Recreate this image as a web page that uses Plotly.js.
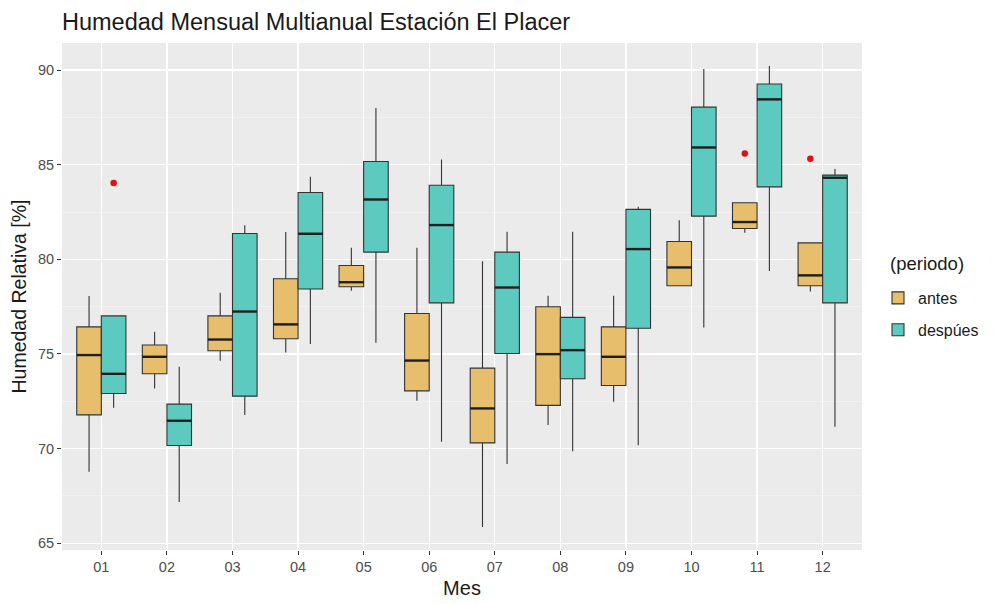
<!DOCTYPE html>
<html>
<head>
<meta charset="utf-8">
<script src="https://cdn.plot.ly/plotly-3.0.1.min.js"></script>
<style>html,body{margin:0;padding:0;background:#fff;}#chart{width:996px;height:604px;}</style>
</head>
<body>
<div id="chart"></div>
<script>
const months = ['01','02','03','04','05','06','07','08','09','10','11','12'];

// antes
const antesLow  = [68.77, 73.17, 74.64, 75.08, 78.34, 72.52, 65.86, 71.24, 72.47, 78.60, 81.40, 78.30];
const antesQ1   = [71.78, 73.95, 75.17, 75.80, 78.55, 73.05, 70.30, 72.28, 73.33, 78.60, 81.63, 78.60];
const antesMed  = [74.94, 74.85, 75.76, 76.56, 78.79, 74.65, 72.12, 74.99, 74.85, 79.57, 81.97, 79.15];
const antesQ3   = [76.43, 75.47, 77.01, 78.97, 79.67, 77.14, 74.25, 77.49, 76.43, 80.94, 82.99, 80.87];
const antesHigh = [78.06, 76.17, 78.23, 81.44, 80.61, 80.61, 79.90, 78.07, 78.07, 82.07, 82.99, 80.87];

// despues
const despLow  = [72.15, 67.18, 71.77, 75.52, 75.59, 70.36, 69.18, 69.86, 70.18, 76.40, 79.38, 71.15];
const despQ1   = [72.91, 70.16, 72.77, 78.43, 80.38, 77.70, 75.02, 73.69, 76.36, 82.28, 83.83, 77.70];
const despMed  = [73.95, 71.47, 77.24, 81.35, 83.16, 81.81, 78.51, 75.20, 80.54, 85.91, 88.45, 84.31];
const despQ3   = [77.01, 72.35, 81.36, 83.53, 85.17, 83.91, 80.38, 76.93, 82.64, 88.04, 89.26, 84.45];
const despHigh = [77.01, 74.32, 81.80, 84.36, 87.99, 85.28, 81.45, 81.45, 82.78, 90.05, 90.21, 84.77];

// outliers
const outMonthsAntes = ['11', '12'];
const outValsAntes   = [85.59, 85.31];
const outMonthsDesp  = ['01'];
const outValsDesp    = [84.03];

const yTicks = [65, 70, 75, 80, 85, 90];

const colAntes = '#E6BE6C';
const colDesp = '#5DCABF';
const boxW = 0.375;
const offA = -boxW / 2, offD = boxW / 2;
const pos = m => months.indexOf(m) + 1;

function boxTrace(name, color, off, lo, q1, med, q3, hi) {
  return {
    type: 'box', name: name, legendgroup: name,
    x: months.map(m => pos(m) + off),
    lowerfence: lo, q1: q1, median: med, q3: q3, upperfence: hi,
    width: boxW,
    fillcolor: color,
    line: {color: '#333333', width: 1.1},
    whiskerwidth: 0,
    boxpoints: false,
    hoverinfo: 'skip',
    showlegend: true
  };
}
function medTrace(off, med) {
  const xs = [], ys = [];
  months.forEach((m, i) => {
    xs.push(pos(m) + off - boxW / 2, pos(m) + off + boxW / 2, null);
    ys.push(med[i], med[i], null);
  });
  return {type: 'scatter', mode: 'lines', x: xs, y: ys,
    line: {color: '#1f1f1f', width: 2.4}, showlegend: false, hoverinfo: 'skip'};
}
function outTrace(ms, vals, off) {
  return {type: 'scatter', mode: 'markers', x: ms.map(m => pos(m) + off), y: vals,
    marker: {color: '#E0101A', size: 6.5}, showlegend: false, hoverinfo: 'skip'};
}

const data = [
  boxTrace('antes', colAntes, offA, antesLow, antesQ1, antesMed, antesQ3, antesHigh),
  boxTrace('despúes', colDesp, offD, despLow, despQ1, despMed, despQ3, despHigh),
  medTrace(offA, antesMed),
  medTrace(offD, despMed),
  outTrace(outMonthsAntes, outValsAntes, offA),
  outTrace(outMonthsDesp, outValsDesp, offD)
];

const layout = {
  width: 996, height: 604,
  paper_bgcolor: '#ffffff',
  plot_bgcolor: '#EBEBEB',
  font: {family: 'Liberation Sans, Arial, sans-serif', color: '#4D4D4D'},
  margin: {l: 62, r: 134, t: 43, b: 54, pad: 0},
  boxmode: 'overlay',
  title: {text: 'Humedad Mensual Multianual Estación El Placer', x: 62/996, xref: 'container', xanchor: 'left',
    y: 1 - 22/604, yref: 'container', yanchor: 'middle', font: {size: 23.5, color: '#1a1a1a'}},
  xaxis: {
    range: [0.4, 12.6],
    tickmode: 'array', tickvals: months.map(pos), ticktext: months,
    showgrid: true, gridcolor: '#ffffff', gridwidth: 1.2,
    zeroline: false, showline: false,
    ticks: 'outside', ticklen: 4, tickcolor: '#333333', tickwidth: 1,
    tickfont: {size: 14.5, color: '#4D4D4D'},
    title: {text: 'Mes', font: {size: 20, color: '#1a1a1a'}, standoff: 6}
  },
  yaxis: {
    range: [64.64, 91.43],
    tickmode: 'array', tickvals: yTicks,
    showgrid: true, gridcolor: '#ffffff', gridwidth: 1.2,
    minor: {tickmode: 'linear', tick0: 62.5, dtick: 5, showgrid: true, gridcolor: '#F7F7F7', gridwidth: 0.6, ticks: ''},
    zeroline: false, showline: false,
    ticks: 'outside', ticklen: 4, tickcolor: '#333333', tickwidth: 1,
    tickfont: {size: 14.5, color: '#4D4D4D'},
    title: {text: 'Humedad Relativa [%]', font: {size: 19.5, color: '#1a1a1a'}, standoff: 6}
  },
  legend: {
    x: 1.02, xanchor: 'left', y: 1 - (281 - 43) / 507, yanchor: 'top',
    font: {size: 16, color: '#1a1a1a'},
    bgcolor: 'rgba(0,0,0,0)', tracegroupgap: 8
  },
  annotations: [{
    text: '(periodo)', xref: 'paper', yref: 'paper', x: (888 - 62) / 800, y: 1 - (263 - 43) / 507,
    xanchor: 'left', yanchor: 'middle', showarrow: false, font: {size: 18.5, color: '#1a1a1a'}
  }]
};

Plotly.newPlot('chart', data, layout, {displayModeBar: false, staticPlot: true});
</script>
</body>
</html>
